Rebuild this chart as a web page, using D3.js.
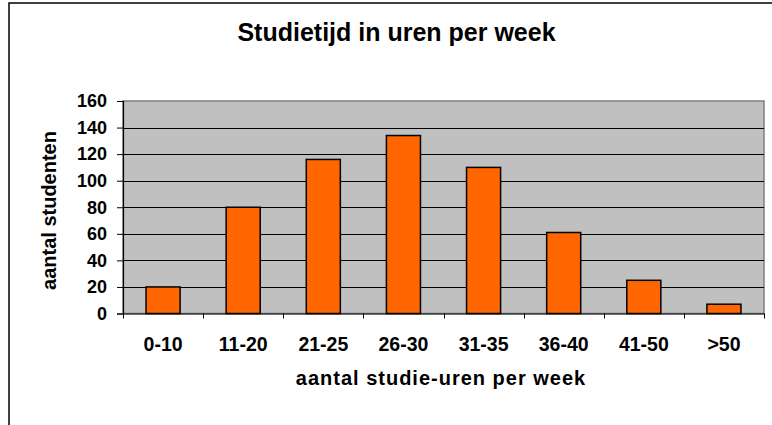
<!DOCTYPE html>
<html><head><meta charset="utf-8">
<script src="https://cdn.jsdelivr.net/npm/d3@7"></script>
<style>body{margin:0;background:#fff}svg{display:block}text{font-family:Arial,"Liberation Sans",sans-serif;font-weight:bold;fill:#000}</style>
</head><body>
<script>
const categories = ["0-10","11-20","21-25","26-30","31-35","36-40","41-50",">50"];
const values = [20,80,116,134,110,61,25,7];
const yTicks = [0,20,40,60,80,100,120,140,160];
const title = "Studietijd in uren per week";
const xTitle = "aantal studie-uren per week";
const yTitle = "aantal studenten";

const W = 772, H = 425;
const FONT = "Arial, 'Liberation Sans', sans-serif";
const svg = d3.select("body").append("svg").attr("width", W).attr("height", H);
svg.append("rect").attr("width", W).attr("height", H).attr("fill", "#fff");
// chart frame
svg.append("rect").attr("x", 9).attr("y", 3).attr("width", W + 20).attr("height", H + 20)
  .attr("fill", "none").attr("stroke", "#000").attr("stroke-width", 1.5);

const L = 123, R = 764, T = 101, B = 313.5;
const x = d3.scaleBand().domain(categories).range([L, R]).paddingInner(0.575).paddingOuter(0.2875);
const y = d3.scaleLinear().domain([0, 160]).range([B, T]);

svg.append("rect").attr("x", L).attr("y", T).attr("width", R - L).attr("height", B - T)
  .attr("fill", "#c0c0c0").attr("stroke", "#808080").attr("stroke-width", 1.5);

svg.append("g").selectAll("line").data(yTicks.filter(d => d > 0 && d < 160)).join("line")
  .attr("x1", L).attr("x2", R).attr("y1", d => Math.round(y(d)) + 0.5).attr("y2", d => Math.round(y(d)) + 0.5)
  .attr("stroke", "#000").attr("stroke-width", 1.2);

svg.append("g").selectAll("rect").data(values).join("rect")
  .attr("x", (d, i) => x(categories[i])).attr("width", x.bandwidth())
  .attr("y", d => y(d)).attr("height", d => B - y(d))
  .attr("fill", "#ff6600").attr("stroke", "#000").attr("stroke-width", 1.5);

// y axis
const ya = svg.append("g").attr("transform", `translate(${L},0)`)
  .call(d3.axisLeft(y).tickValues(yTicks).tickSize(6).tickPadding(10));
ya.select(".domain").attr("stroke", "#000").attr("stroke-width", 1.2);
ya.selectAll(".tick line").attr("stroke", "#000");
ya.selectAll("text").style("font-size", "18px").style("font-family", FONT).style("font-weight", "bold");

// x axis
const xa = svg.append("g").attr("transform", `translate(0,${B})`)
  .call(d3.axisBottom(x).tickSize(0).tickPadding(23.5));
xa.select(".domain").attr("stroke", "#000").attr("stroke-width", 1.2);
xa.selectAll("text").style("font-size", "19.5px").style("font-family", FONT).style("font-weight", "bold");
const bounds = [...categories.map(c => x(c) - x.step() * x.paddingInner() / 2), R];
svg.append("g").selectAll("line").data(bounds).join("line")
  .attr("x1", d => Math.round(d) + 0.5).attr("x2", d => Math.round(d) + 0.5)
  .attr("y1", B).attr("y2", B + 5).attr("stroke", "#000");

svg.append("text").attr("x", 396.5).attr("y", 41).attr("text-anchor", "middle")
  .style("font-size", "25px").text(title);
svg.append("text").attr("x", 441).attr("y", 385).attr("text-anchor", "middle")
  .style("font-size", "20px").style("letter-spacing", "1px").text(xTitle);
svg.append("text").attr("transform", "translate(56,210.5) rotate(-90)").attr("text-anchor", "middle")
  .style("font-size", "20px").text(yTitle);
</script>
</body></html>
